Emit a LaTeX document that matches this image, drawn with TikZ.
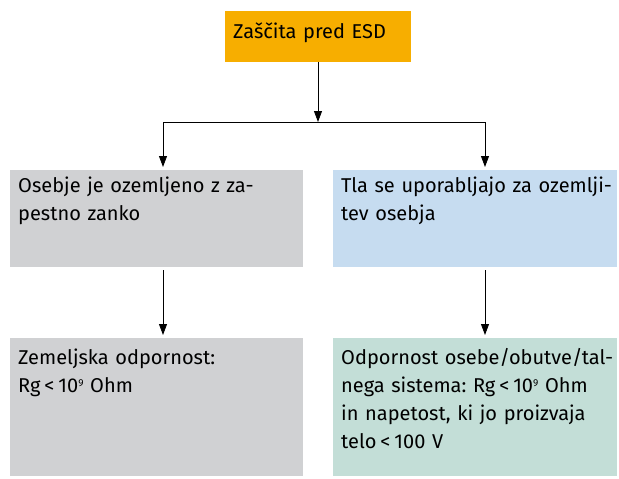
\documentclass[tikz,border=0pt]{standalone}
\usepackage{fontspec}
\setmainfont{Fira Sans}
\usetikzlibrary{arrows.meta}
\frenchspacing

\definecolor{esdorange}{HTML}{F7AE00}
\definecolor{esdgrey}{HTML}{D0D1D3}
\definecolor{esdblue}{HTML}{C6DCF0}
\definecolor{esdgreen}{HTML}{C3DED7}

% manjsi eksponent
\newcommand{\esdexp}[1]{\raisebox{6pt}{\fontsize{10}{10}\selectfont #1}}
\newcommand{\esdlt}{\hspace{4pt}<\hspace{4pt}}

\begin{document}
\begin{tikzpicture}[
    x=1pt, y=-1pt,
    font=\fontsize{20}{28}\selectfont,
    box/.style={rectangle, inner sep=0pt, anchor=north west},
    box text/.style={anchor=north west, align=left, inner sep=0pt, text width=#1},
    connector/.style={-{Triangle[length=11pt,width=8pt]}, line width=0.8pt},
    gap/.style={shorten <=3pt, shorten >=3pt},
  ]
  \useasboundingbox (0,0) rectangle (619,479);

  % Polja (levi zgornji kot, sirina, visina)
  \node[box, fill=esdorange, minimum width=186pt, minimum height=51pt] (esd) at (225,11) {};
  \node[box, fill=esdgrey, minimum width=293pt, minimum height=97pt] (osebje) at (10,170) {};
  \node[box, fill=esdblue, minimum width=284pt, minimum height=97pt] (tla) at (333,170) {};
  \node[box, fill=esdgrey, minimum width=293pt, minimum height=138pt] (zemlja) at (10,338) {};
  \node[box, fill=esdgreen, minimum width=284pt, minimum height=138pt] (sistem) at (333,338) {};

  % Besedila v poljih
  \node[box text=175pt] (esd-t) at (233,19) {\strut Zaščita pred ESD};
  \node[box text=282pt] (osebje-t) at (18,173) {\strut Osebje je ozemljeno z za-\\pestno zanko};
  \node[box text=278pt] (tla-t) at (341,173) {\strut Tla se uporabljajo za ozemlji-\\tev osebja};
  \node[box text=282pt] (zemlja-t) at (18,345) {\strut Zemeljska odpornost:\\Rg\esdlt 10\esdexp{9} Ohm};
  \node[box text=278pt] (sistem-t) at (341,345) {\strut Odpornost osebe/obutve/tal-\\nega sistema: Rg\esdlt 10\esdexp{9} Ohm\\in napetost, ki jo proizvaja\\telo\esdlt 100 V};

  % Razcep povezav
  \coordinate (split) at (318,122);
  \coordinate (splitL) at (163,122);
  \coordinate (splitR) at (485,122);

  \draw[connector] (esd.south -| split) -- (split);
  \draw[line width=0.8pt] (splitL) -- (splitR);
  \foreach \s/\top/\bottom in {splitL/osebje/zemlja, splitR/tla/sistem} {
    \draw[connector, shorten >=3pt] (\s) -- (\s |- \top.north);
    \draw[connector, gap] (\s |- \top.south) -- (\s |- \bottom.north);
  }
\end{tikzpicture}
\end{document}
